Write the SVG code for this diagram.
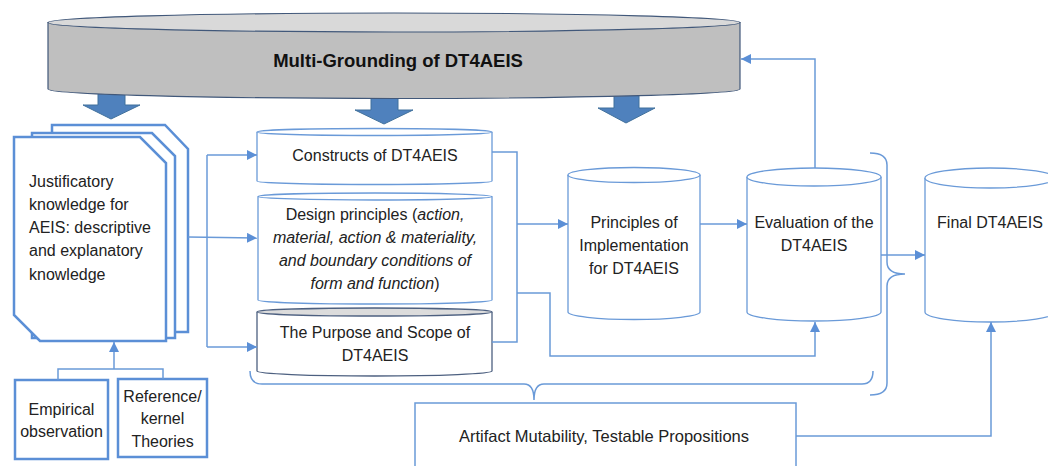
<svg xmlns="http://www.w3.org/2000/svg" width="1048" height="466" viewBox="0 0 1048 466">
<defs>
<style>
text{font-family:"Liberation Sans",Arial,sans-serif;font-size:16px;fill:#222;}
.c{text-anchor:middle;}
.it{font-style:italic;}
.conn{fill:none;stroke:#6a9ad8;stroke-width:1.5;}
.cyl{fill:#fff;stroke:#6a9ad8;stroke-width:1.3;}
.page{fill:#fff;stroke:#5b8fd6;stroke-width:2.5;stroke-linejoin:miter;}
.box{fill:#fff;stroke:#5b8fd6;stroke-width:2.5;}
.fat{fill:#4f81bd;stroke:#41719c;stroke-width:1;}
</style>
<marker id="ah" viewBox="0 0 10 10" refX="10" refY="5" markerWidth="10" markerHeight="10" markerUnits="userSpaceOnUse" orient="auto">
<path d="M0,0 L10,5 L0,10 z" fill="#5b8fd6"/>
</marker>
</defs>
<rect width="1048" height="466" fill="#fff"/>

<g id="fat-arrows">
<polygon class="fat" points="98,88 125,88 125,105 140,105 111,119 83,105 98,105"/>
<polygon class="fat" points="371,92 398,92 398,110 413,110 384,124 355,110 371,110"/>
<polygon class="fat" points="614,90 639,90 639,108 655,108 626,123 598,108 614,108"/>
</g>

<g id="multi-grounding">
<path d="M48,22.5 L48,89 A346,9.5 0 0 0 740,89 L740,22.5 Z" fill="#bfbfbf" stroke="#41587a" stroke-width="1.2"/>
<ellipse cx="394" cy="22.5" rx="346" ry="9.5" fill="#d9d9d9" stroke="#41587a" stroke-width="1.2"/>
<text x="398" y="67" class="c" style="font-weight:bold;font-size:18.5px;fill:#111">Multi-Grounding of DT4AEIS</text>
</g>

<g id="justificatory">
<polygon class="page" points="52,125 165,125 188,149 188,332 52,332"/>
<polygon class="page" points="32,133 152,133 175,156 175,338 32,338"/>
<polygon class="page" points="14,137 140,137 166,163 166,341 40,341 14,315"/>
<g style="font-size:15.5px">
<text x="29" y="187">Justificatory</text>
<text x="29" y="210">knowledge for</text>
<text x="29" y="233">AEIS: descriptive</text>
<text x="29" y="256">and explanatory</text>
<text x="29" y="280">knowledge</text>
</g>
</g>

<g id="empirical">
<rect class="box" x="15" y="380" width="93" height="79"/>
<text x="61.5" y="415" class="c">Empirical</text>
<text x="61.5" y="437" class="c">observation</text>
</g>

<g id="reference">
<rect class="box" x="118" y="379" width="89" height="78"/>
<text x="162.5" y="402" class="c">Reference/</text>
<text x="162.5" y="424" class="c">kernel</text>
<text x="162.5" y="447" class="c">Theories</text>
</g>

<g id="constructs">
<path class="cyl" d="M257,132 L257,181 A117.5,3.5 0 0 0 492,181 L492,132"/>
<ellipse class="cyl" cx="374.5" cy="132" rx="117.5" ry="3.5"/>
<text x="375" y="161" class="c">Constructs of DT4AEIS</text>
</g>

<g id="design-principles">
<path class="cyl" d="M258,196.5 L258,300 A117,4 0 0 0 492,300 L492,196.5"/>
<ellipse class="cyl" cx="375" cy="196.5" rx="117" ry="3.5"/>
<text x="375" y="220" class="c">Design principles  (<tspan class="it">action,</tspan></text>
<text x="375" y="243" class="c it">material, action &amp; materiality,</text>
<text x="375" y="266" class="c it">and boundary conditions of</text>
<text x="375" y="289" class="c"><tspan class="it">form and function</tspan>)</text>
</g>

<g id="purpose">
<path d="M257,312 L257,371 A117.5,5 0 0 0 492,371 L492,312" fill="#fff" stroke="#4d6080" stroke-width="1.3"/>
<ellipse cx="374.5" cy="312" rx="117.5" ry="4" fill="#dcdcdc" stroke="#4d6080" stroke-width="1.3"/>
<text x="375" y="338" class="c">The Purpose and Scope of</text>
<text x="375" y="361" class="c">DT4AEIS</text>
</g>

<g id="implementation">
<path class="cyl" d="M568,175 L568,312 A66,7.5 0 0 0 700,312 L700,175"/>
<ellipse class="cyl" cx="634" cy="175" rx="66" ry="7.5"/>
<text x="634" y="228" class="c">Principles of</text>
<text x="634" y="251" class="c">Implementation</text>
<text x="634" y="274" class="c">for DT4AEIS</text>
</g>

<g id="evaluation">
<path class="cyl" d="M747,177 L747,312 A67,9 0 0 0 881,312 L881,177"/>
<ellipse class="cyl" cx="814" cy="177" rx="67" ry="9"/>
<text x="814" y="228" class="c">Evaluation of the</text>
<text x="814" y="251" class="c">DT4AEIS</text>
</g>

<g id="final">
<path class="cyl" d="M925,178 L925,312 A65,10 0 0 0 1055,312 L1055,178"/>
<ellipse class="cyl" cx="990" cy="178" rx="65" ry="10"/>
<text x="990" y="228" class="c">Final DT4AEIS</text>
</g>

<g id="artifact">
<rect x="415" y="403" width="381" height="70" fill="#fff" stroke="#6a9ad8" stroke-width="1.5"/>
<text x="604" y="442" class="c" style="font-size:16.5px">Artifact Mutability, Testable Propositions</text>
</g>

<g id="connectors">
<path class="conn" d="M58,380 V369 H163 V379"/>
<path class="conn" d="M114,369 V342" marker-end="url(#ah)"/>
<path class="conn" d="M188,237 L257,238" marker-end="url(#ah)"/>
<path class="conn" d="M207,155 V347"/>
<path class="conn" d="M207,155 H257" marker-end="url(#ah)"/>
<path class="conn" d="M207,347 H257" marker-end="url(#ah)"/>
<path class="conn" d="M492,152 H517 V342 H492"/>
<path class="conn" d="M517,224 H568" marker-end="url(#ah)"/>
<path class="conn" d="M517,293 H550 V356 H815 V322" marker-end="url(#ah)"/>
<path class="conn" d="M700,224 H747" marker-end="url(#ah)"/>
<path class="conn" d="M815,168 V59 H741" marker-end="url(#ah)"/>
<path class="conn" d="M881,255 H925" marker-end="url(#ah)"/>
<path class="conn" d="M796,436 H991 V322" marker-end="url(#ah)"/>
<path class="conn" d="M870,153 Q887,153 887,165 V262 Q887,274 905,274 Q887,274 887,286 V383 Q887,395 870,395"/>
<path class="conn" d="M250,371 Q250,384 262,384 H524 Q534,384 534,400 Q534,384 544,384 H862 Q873,384 873,371"/>
</g>
</svg>
